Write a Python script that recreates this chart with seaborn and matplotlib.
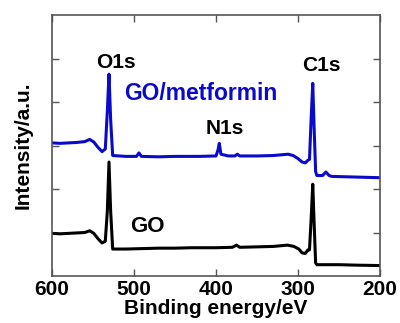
import matplotlib
matplotlib.use("Agg")
import matplotlib.pyplot as plt
import seaborn as sns
import pandas as pd

# Binding energy (eV) and intensity (a.u.)
go_energy = [600, 590, 580, 570, 560, 554, 549, 544, 539, 535, 532.5, 530.5, 528.5, 526,
             510, 490, 470, 450, 430, 400, 380, 375, 371, 350, 330, 313, 305, 299, 295,
             291, 288, 286, 284, 282, 280.5, 278.5, 277, 250, 230, 200]
go_intensity = [0.98, 0.97, 0.98, 0.99, 1.00, 1.04, 0.98, 0.86, 0.76, 0.80, 1.5, 2.62, 1.5, 0.62,
                0.62, 0.63, 0.64, 0.64, 0.65, 0.65, 0.66, 0.71, 0.66, 0.67, 0.68, 0.71, 0.68, 0.62, 0.53,
                0.52, 0.60, 0.60, 1.3, 2.11, 1.3, 0.30, 0.26, 0.26, 0.25, 0.24]

gom_energy = [600, 590, 580, 570, 560, 554, 549, 544, 539, 535, 532.5, 530.5, 528.5, 526,
              510, 497, 494, 491, 470, 450, 420, 400, 397.5, 396, 394, 385, 377, 374, 371,
              350, 330, 312, 306, 300, 295, 291, 288, 286, 284, 282, 280.5, 278.5, 277,
              270, 266, 262, 259, 240, 220, 200]
gom_intensity = [3.06, 3.05, 3.06, 3.07, 3.09, 3.14, 3.08, 2.96, 2.86, 2.92, 3.8, 4.64, 3.6, 2.77,
                 2.75, 2.75, 2.83, 2.75, 2.74, 2.75, 2.75, 2.76, 2.90, 3.05, 2.80, 2.76, 2.76, 2.80, 2.76,
                 2.76, 2.77, 2.80, 2.77, 2.70, 2.62, 2.60, 2.66, 2.68, 3.6, 4.43, 3.5, 2.40, 2.31,
                 2.31, 2.39, 2.31, 2.29, 2.28, 2.27, 2.26]

x_ticks = [600, 500, 400, 300, 200]
y_ticks = [1, 2, 3, 4, 5]

df = pd.concat([
    pd.DataFrame({"energy": go_energy, "intensity": go_intensity, "sample": "GO"}),
    pd.DataFrame({"energy": gom_energy, "intensity": gom_intensity, "sample": "GO/metformin"}),
])

sns.set_style("ticks")
plt.rcParams["font.family"] = ["Liberation Sans", "DejaVu Sans"]
plt.rcParams["font.weight"] = "bold"
plt.rcParams["text.color"] = "black"
plt.rcParams["axes.labelcolor"] = "black"

fig = plt.figure(figsize=(4.0, 3.23), dpi=100)
ax = fig.add_axes([0.13, 0.1455, 0.82, 0.808])

sns.lineplot(data=df, x="energy", y="intensity", hue="sample", sort=False,
             palette={"GO": "black", "GO/metformin": "#0a0acc"},
             linewidth=2.2, legend=False, ax=ax, estimator=None)

ax.set_xlim(600, 200)
ax.set_ylim(0, 6)
ax.set_xticks(x_ticks)
ax.set_xticklabels([str(t) for t in x_ticks], fontsize=15, fontweight="bold", color="black")
ax.set_yticks(y_ticks)
ax.set_yticklabels([])
ax.tick_params(direction="in", top=True, right=True, length=5, width=1, color="#555555", pad=3)
for s in ax.spines.values():
    s.set_color("#555555")
    s.set_linewidth(1.2)

ax.set_xlabel("Binding energy/eV", fontsize=15, fontweight="bold", labelpad=0)
ax.set_ylabel("Intensity/a.u.", fontsize=15, fontweight="bold", labelpad=11)

ax.text(522, 4.90, "O1s", ha="center", va="center", fontsize=15, fontweight="bold")
ax.text(271, 4.85, "C1s", ha="center", va="center", fontsize=15, fontweight="bold")
ax.text(389, 3.40, "N1s", ha="center", va="center", fontsize=15, fontweight="bold")
ax.text(419, 4.2, "GO/metformin", ha="center", va="center", fontsize=16.5, fontweight="bold", color="#0a0acc")
ax.text(484, 1.13, "GO", ha="center", va="center", fontsize=16, fontweight="bold")

fig.savefig("out.png", dpi=100)
